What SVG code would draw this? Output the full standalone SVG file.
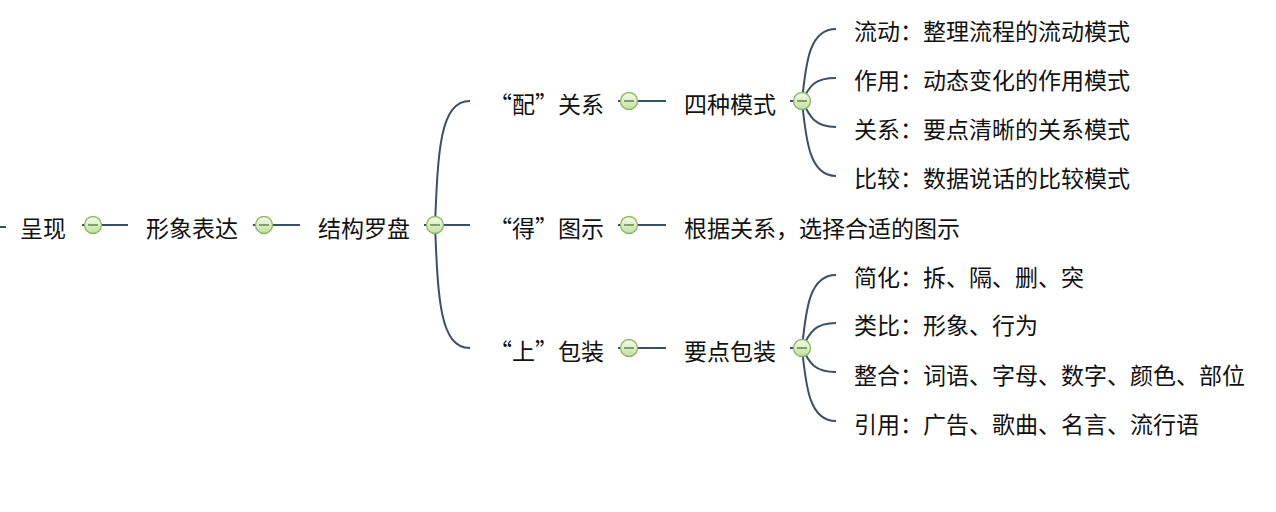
<svg xmlns="http://www.w3.org/2000/svg" width="1276" height="512" viewBox="0 0 1276 512">
<defs>
<linearGradient id="g" x1="0" y1="0" x2="0" y2="1">
<stop offset="0" stop-color="#f6fbee"/>
<stop offset="1" stop-color="#c3dea0"/>
</linearGradient>
<style>
.t{font-family:"Noto Sans CJK SC","Liberation Sans",sans-serif;font-size:23px;fill:#111;dominant-baseline:central}
.c{fill:none;stroke:#3b4f66;stroke-width:2}
.k circle{fill:url(#g);stroke:#86b860;stroke-width:1.3}
.k line{stroke:#4d7a32;stroke-width:1.3}
</style>
</defs>
<rect width="1276" height="512" fill="#fff"/>
<g id="connectors">
<line class="c" x1="0" y1="227" x2="6" y2="227"/>
<line class="c" x1="82" y1="225" x2="128" y2="225"/>
<line class="c" x1="253" y1="225" x2="300" y2="225"/>
<line class="c" x1="424" y1="225" x2="470" y2="225"/>
<path class="c" d="M435 225 C438 150 440 101 470 101"/>
<path class="c" d="M435 225 C438 300 440 348 470 348"/>
<line class="c" x1="618" y1="101" x2="666" y2="101"/>
<line class="c" x1="618" y1="225" x2="666" y2="225"/>
<line class="c" x1="618" y1="348" x2="666" y2="348"/>
<line class="c" x1="790" y1="101" x2="802" y2="101"/>
<path class="c" d="M802 101 C806 60 810 29 836 29"/>
<path class="c" d="M802 101 C810 85 815 78 836 78"/>
<path class="c" d="M802 101 C810 117 815 127 836 127"/>
<path class="c" d="M802 101 C806 142 810 176 836 176"/>
<line class="c" x1="790" y1="348" x2="802" y2="348"/>
<path class="c" d="M802 348 C806 307 810 275 836 275"/>
<path class="c" d="M802 348 C810 332 815 323 836 323"/>
<path class="c" d="M802 348 C810 364 815 372 836 372"/>
<path class="c" d="M802 348 C806 389 810 421 836 421"/>
</g>
<g id="n-chengxian"><text class="t" x="20" y="227">呈现</text></g>
<g id="k1" class="k"><circle cx="93" cy="225" r="8.5"/><line x1="88" y1="225" x2="98" y2="225"/></g>
<g id="n-xingxiang"><text class="t" x="146" y="227">形象表达</text></g>
<g id="k2" class="k"><circle cx="264" cy="225" r="8.5"/><line x1="259" y1="225" x2="269" y2="225"/></g>
<g id="n-jiegou"><text class="t" x="318" y="227">结构罗盘</text></g>
<g id="k3" class="k"><circle cx="435" cy="225" r="8.5"/><line x1="430" y1="225" x2="440" y2="225"/></g>
<g id="n-pei"><text class="t" x="604" y="103" text-anchor="end">“配”关系</text></g>
<g id="k4" class="k"><circle cx="629" cy="101" r="8.5"/><line x1="624" y1="101" x2="634" y2="101"/></g>
<g id="n-de"><text class="t" x="604" y="227" text-anchor="end">“得”图示</text></g>
<g id="k5" class="k"><circle cx="629" cy="225" r="8.5"/><line x1="624" y1="225" x2="634" y2="225"/></g>
<g id="n-shang"><text class="t" x="604" y="350" text-anchor="end">“上”包装</text></g>
<g id="k6" class="k"><circle cx="629" cy="348" r="8.5"/><line x1="624" y1="348" x2="634" y2="348"/></g>
<g id="n-sizhong"><text class="t" x="684" y="103">四种模式</text></g>
<g id="k7" class="k"><circle cx="802" cy="101" r="8.5"/><line x1="797" y1="101" x2="807" y2="101"/></g>
<g id="n-genju"><text class="t" x="684" y="227">根据关系，选择合适的图示</text></g>
<g id="n-yaodian"><text class="t" x="684" y="350">要点包装</text></g>
<g id="k8" class="k"><circle cx="802" cy="348" r="8.5"/><line x1="797" y1="348" x2="807" y2="348"/></g>
<g id="n-liudong"><text class="t" x="854" y="30">流动：整理流程的流动模式</text></g>
<g id="n-zuoyong"><text class="t" x="854" y="79">作用：动态变化的作用模式</text></g>
<g id="n-guanxi"><text class="t" x="854" y="128">关系：要点清晰的关系模式</text></g>
<g id="n-bijiao"><text class="t" x="854" y="177">比较：数据说话的比较模式</text></g>
<g id="n-jianhua"><text class="t" x="854" y="276">简化：拆、隔、删、突</text></g>
<g id="n-leibi"><text class="t" x="854" y="324">类比：形象、行为</text></g>
<g id="n-zhenghe"><text class="t" x="854" y="374">整合：词语、字母、数字、颜色、部位</text></g>
<g id="n-yinyong"><text class="t" x="854" y="423">引用：广告、歌曲、名言、流行语</text></g>
</svg>
